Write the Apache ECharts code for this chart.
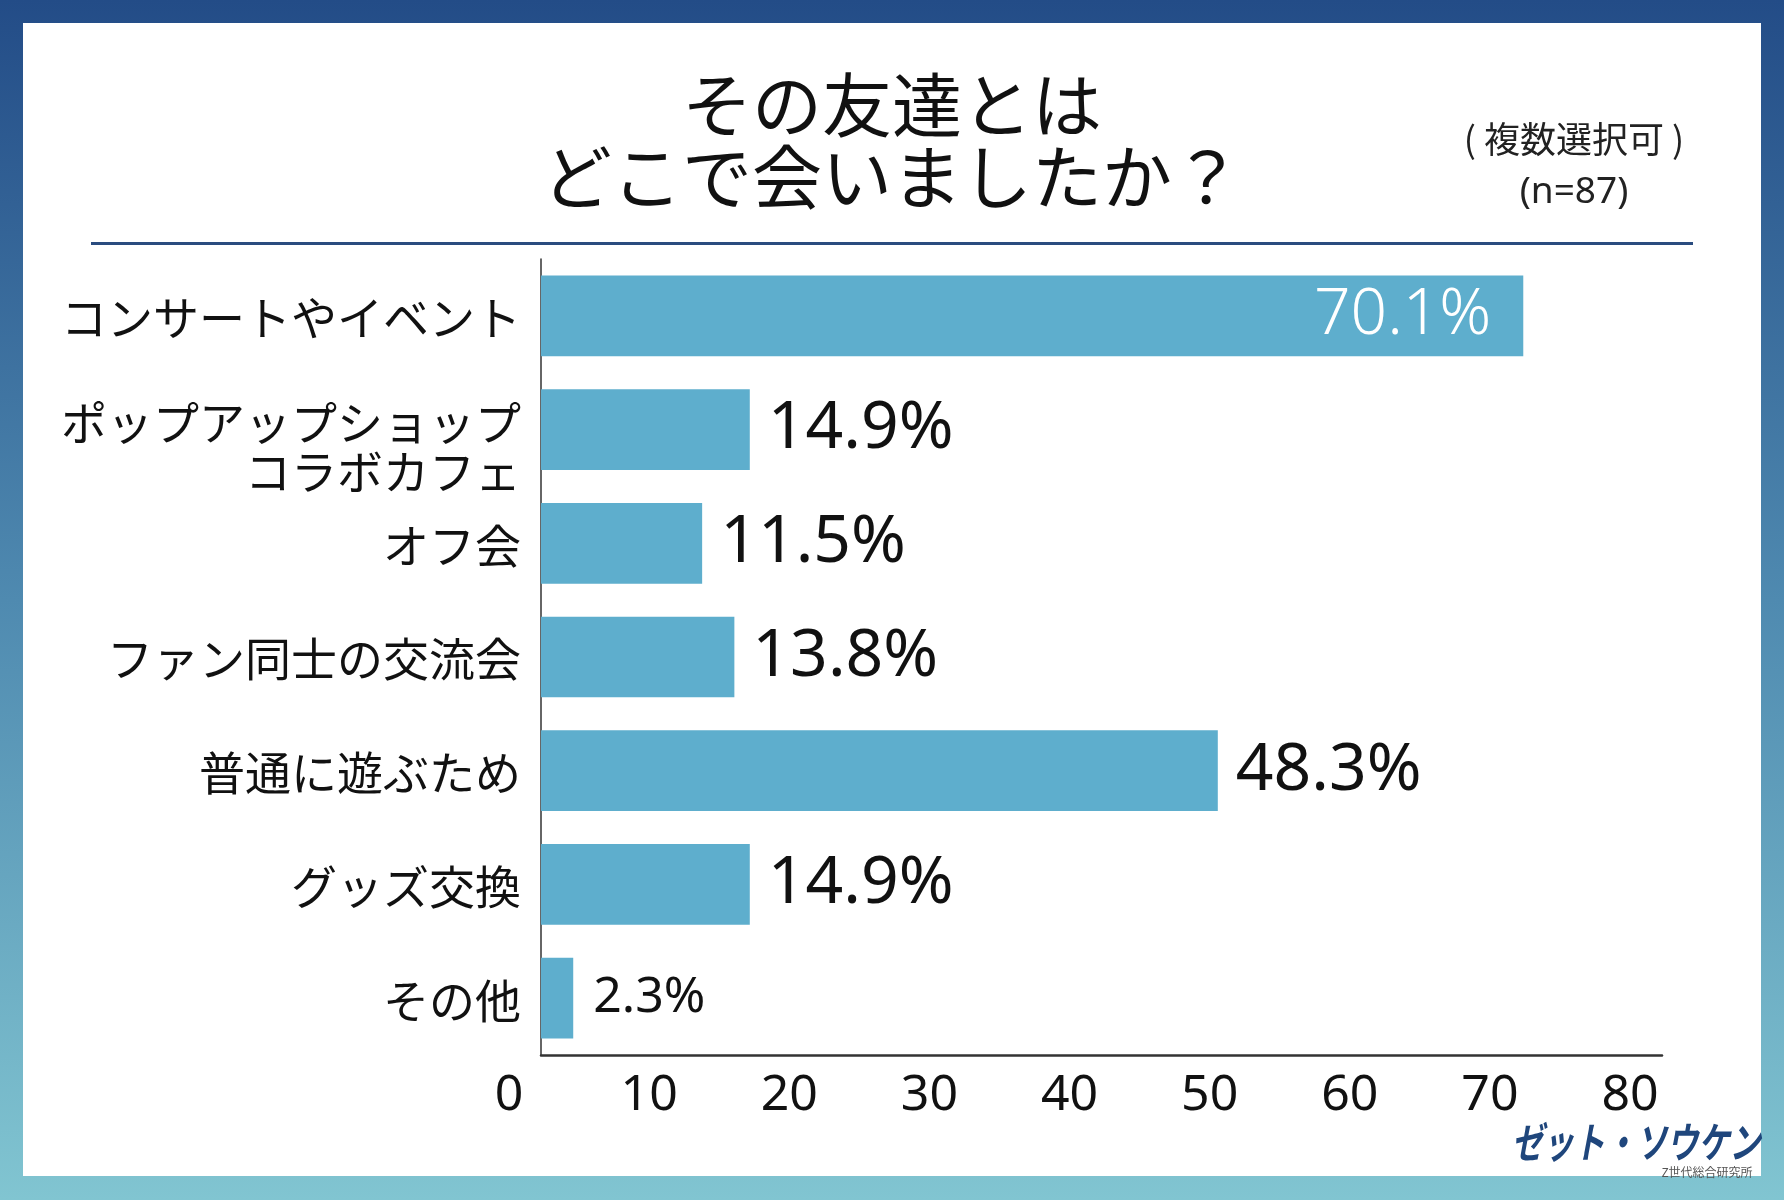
<!DOCTYPE html>
<html>
<head>
<meta charset="utf-8">
<script src="https://cdn.jsdelivr.net/npm/echarts@6/dist/echarts.min.js"></script>
<style>
html,body{margin:0;padding:0;background:#fff;}
#main{width:1784px;height:1200px;}
</style>
</head>
<body>
<div id="main"></div>
<script>
const categories = [
  'コンサートやイベント',
  'ポップアップショップ\nコラボカフェ',
  'オフ会',
  'ファン同士の交流会',
  '普通に遊ぶため',
  'グッズ交換',
  'その他'
];
const values = [70.1, 14.9, 11.5, 13.8, 48.3, 14.9, 2.3];
const xTicks = [0, 10, 20, 30, 40, 50, 60, 70, 80];
const titleText = 'その友達とは\nどこで会いましたか？';
const noteText = '( 複数選択可 )';
const nText = '(n=87)';

const JP = '"Noto Sans CJK JP", "Noto Sans", sans-serif';
const NUM = '"Noto Sans", "Lato", sans-serif';
const barColor = '#5eaecd';

const seriesData = values.map((v, i) => {
  const item = { value: v };
  if (i === 0) {
    item.label = { position: 'insideRight', distance: 32, color: '#ffffff', fontSize: 64, fontWeight: 300 };
  } else if (v < 5) {
    item.label = { fontSize: 50, distance: 20 };
  }
  return item;
});

const chart = echarts.init(document.getElementById('main'), null, { renderer: 'canvas' });
chart.setOption({
  animation: false,
  backgroundColor: 'transparent',
  graphic: [
    {
      type: 'rect', z: -100, silent: true,
      shape: { x: 0, y: 0, width: 1784, height: 1200 },
      style: {
        fill: new echarts.graphic.LinearGradient(0, 0, 0, 1, [
          { offset: 0, color: '#234c87' },
          { offset: 0.5, color: '#4f8ab0' },
          { offset: 1, color: '#81c5d1' }
        ])
      }
    },
    {
      type: 'rect', z: -99, silent: true,
      shape: { x: 23, y: 23, width: 1738, height: 1153 },
      style: { fill: '#ffffff' }
    },
    {
      type: 'rect', z: 5, silent: true,
      shape: { x: 91, y: 242, width: 1602, height: 3 },
      style: { fill: '#2a4c7f' }
    },
    {
      type: 'text', z: 5, silent: true,
      x: 1574, y: 139,
      style: { text: noteText, font: '36px ' + JP, fill: '#222', textAlign: 'center', textVerticalAlign: 'middle' }
    },
    {
      type: 'text', z: 5, silent: true,
      x: 1574, y: 192,
      style: { text: nText, font: '37px ' + NUM, fill: '#222', textAlign: 'center', textVerticalAlign: 'middle' }
    },
    {
      type: 'text', z: 5, silent: true,
      x: 1636, y: 1142, scaleX: 0.74,
      style: {
        text: 'ゼット・ソウケン', font: 'italic bold 42px ' + JP,
        fill: '#1f467c',
        textAlign: 'center', textVerticalAlign: 'middle'
      }
    },
    {
      type: 'text', z: 5, silent: true,
      x: 1707, y: 1172,
      style: { text: 'Z世代総合研究所', font: '12px ' + JP, fill: '#555', textAlign: 'center', textVerticalAlign: 'middle' }
    }
  ],
  title: {
    text: titleText,
    left: 'center',
    top: 64,
    textStyle: { fontFamily: JP, fontSize: 70, fontWeight: 400, color: '#111', lineHeight: 72 }
  },
  grid: { left: 541, right: 122, top: 259, bottom: 145, containLabel: false },
  xAxis: {
    type: 'value',
    min: xTicks[0],
    max: xTicks[xTicks.length - 1],
    interval: xTicks[1] - xTicks[0],
    axisLine: { show: true, lineStyle: { color: '#333', width: 2.5 } },
    axisTick: { show: false },
    splitLine: { show: false },
    axisLabel: {
      color: '#111', fontSize: 50, fontFamily: NUM, margin: 16,
      padding: [0, 64, 0, 0],
      showMaxLabel: true, showMinLabel: true
    }
  },
  yAxis: {
    type: 'category',
    data: categories,
    inverse: true,
    axisLine: { show: true, lineStyle: { color: '#333', width: 1.5 } },
    axisTick: { show: false },
    axisLabel: {
      color: '#111', fontSize: 46, fontFamily: JP, margin: 20, align: 'right',
      formatter: v => v.indexOf('\n') >= 0
        ? '{s| }\n' + v.split('\n').map(s => '{m|' + s + '}').join('\n')
        : '{m|' + v + '}',
      rich: {
        s: { fontSize: 10, lineHeight: 30 },
        m: { fontSize: 46, fontFamily: JP, color: '#111', lineHeight: 49, padding: [4, 0, 0, 0] }
      }
    }
  },
  series: [{
    type: 'bar',
    data: seriesData,
    barCategoryGap: '29%',
    itemStyle: { color: barColor },
    label: {
      show: true,
      position: 'right',
      distance: 18,
      color: '#111',
      fontSize: 66,
      fontFamily: NUM,
      formatter: p => p.value + '%'
    }
  }]
});
</script>
</body>
</html>
